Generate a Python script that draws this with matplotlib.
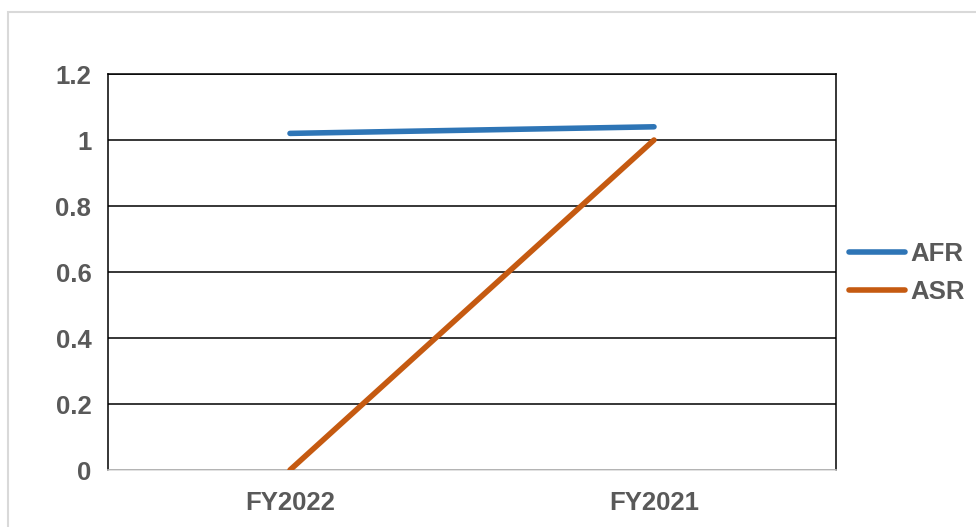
import matplotlib.pyplot as plt
from matplotlib.patches import Rectangle

# data
categories = ['FY2022', 'FY2021']
afr = [1.02, 1.04]
asr = [0.0, 1.0]
yticks = [0, 0.2, 0.4, 0.6, 0.8, 1, 1.2]
ytick_labels = ['0', '0.2', '0.4', '0.6', '0.8', '1', '1.2']

text_color = '#595959'
plt.rcParams['font.family'] = ['Liberation Sans', 'DejaVu Sans']

fig = plt.figure(figsize=(9.76, 5.27), dpi=100)
ax = fig.add_axes([108 / 976, 1 - 470 / 527, (836 - 108) / 976, (470 - 74) / 527])

x = range(len(categories))
ax.plot(x, afr, color='#2E75B6', lw=4, solid_capstyle='round', label='AFR', zorder=3)
ax.plot(x, asr, color='#C55A11', lw=4, solid_capstyle='round', label='ASR', zorder=3)

ax.set_xlim(-0.5, 1.5)
ax.set_ylim(0, 1.2)
ax.set_yticks(yticks)
ax.set_yticklabels(ytick_labels)
ax.set_xticks(list(x))
ax.set_xticklabels(categories)
ax.tick_params(length=0, labelsize=18.5, labelcolor=text_color)
ax.tick_params(axis='y', pad=12)
ax.tick_params(axis='x', pad=15)
for lab in ax.get_xticklabels() + ax.get_yticklabels():
    lab.set_fontweight('bold')

ax.grid(axis='y', color='black', lw=1.1)
ax.set_axisbelow(True)
for side in ['left', 'right', 'top']:
    ax.spines[side].set_color('black')
    ax.spines[side].set_linewidth(1.1)
ax.spines['bottom'].set_color('#d9d9d9')
ax.spines['bottom'].set_linewidth(1.1)

leg = ax.legend(loc='center left', bbox_to_anchor=(828 / 976, 1 - 273 / 527),
                bbox_transform=fig.transFigure, frameon=False,
                prop={'size': 18.5, 'weight': 'bold'}, handlelength=2.2,
                handletextpad=0.2, labelspacing=0.55, borderpad=0.3)
for t in leg.get_texts():
    t.set_color(text_color)

# light outer border of the chart area
fig.patches.append(Rectangle((8 / 976, -0.1), 1.2, 1 - 12 / 527 + 0.1,
                             transform=fig.transFigure, fill=False,
                             edgecolor='#d9d9d9', lw=1.5))

fig.savefig('out.png', dpi=100)
